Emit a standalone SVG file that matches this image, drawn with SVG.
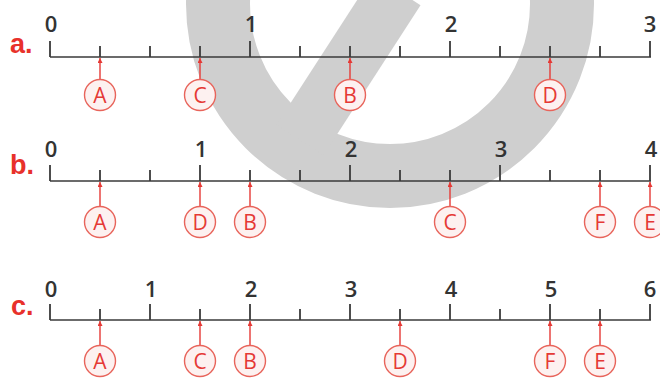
<svg xmlns="http://www.w3.org/2000/svg" width="660" height="378" viewBox="0 0 660 378">
<defs>
<marker id="ah" viewBox="0 0 6 6" refX="6" refY="3" markerWidth="6" markerHeight="5" markerUnits="userSpaceOnUse" orient="auto"><path d="M0,0 L6,3 L0,6 z" fill="#e53935"/></marker>
</defs>
<style>
.ax{stroke:#3a3a3a;stroke-width:1.6;fill:none}
.tk{stroke:#3a3a3a;stroke-width:1.8;fill:none}
.num{font-family:"Open Sans","Liberation Sans",sans-serif;font-size:22px;font-weight:600;fill:#333;text-anchor:middle}
.rl{font-family:"Liberation Sans",sans-serif;font-weight:bold;font-size:27px;fill:#e8312b}
.mc{fill:#fdf1f0;stroke:#e8645b;stroke-width:1.4}
.ml{font-family:"Open Sans","Liberation Sans",sans-serif;font-size:21px;fill:#e53935;text-anchor:middle}
.cn{stroke:#e53935;stroke-width:1.4;marker-end:url(#ah)}
.wm{stroke:#cfcfcf;fill:none}
</style>
<rect width="660" height="378" fill="#fff"/>
<g id="watermark">
<circle class="wm" cx="390" cy="4" r="172" stroke-width="64"/>
<line class="wm" x1="397" y1="-10" x2="300" y2="140" stroke-width="56"/>
</g>
<g id="row-a">
<text class="rl" x="10" y="53">a.</text>
<line class="ax" x1="50" y1="57" x2="651" y2="57"/>
<path class="tk" d="M50,57V41M250,57V41M450,57V41M650,57V41M100,57V46M150,57V46M200,57V46M300,57V46M350,57V46M400,57V46M500,57V46M550,57V46M600,57V46"/>
<text class="num" x="51" y="32">0</text><text class="num" x="251" y="32">1</text><text class="num" x="451" y="32">2</text><text class="num" x="650" y="32">3</text>
</g>
<g id="row-b">
<text class="rl" x="10" y="174">b.</text>
<line class="ax" x1="50" y1="181" x2="651" y2="181"/>
<path class="tk" d="M50,181V165M200,181V165M350,181V165M500,181V165M650,181V165M100,181V170M150,181V170M250,181V170M300,181V170M400,181V170M450,181V170M550,181V170M600,181V170"/>
<text class="num" x="51" y="157">0</text><text class="num" x="201" y="157">1</text><text class="num" x="351" y="157">2</text><text class="num" x="501" y="157">3</text><text class="num" x="651" y="157">4</text>
</g>
<g id="row-c">
<text class="rl" x="11" y="315">c.</text>
<line class="ax" x1="50" y1="320" x2="651" y2="320"/>
<path class="tk" d="M50,320V304M150,320V304M250,320V304M350,320V304M450,320V304M550,320V304M650,320V304M100,320V309M200,320V309M300,320V309M400,320V309M500,320V309M600,320V309"/>
<text class="num" x="51" y="297">0</text><text class="num" x="151" y="297">1</text><text class="num" x="251" y="297">2</text><text class="num" x="351" y="297">3</text><text class="num" x="451" y="297">4</text><text class="num" x="551" y="297">5</text><text class="num" x="650" y="297">6</text>
</g>
<g id="connectors">
<line class="cn" x1="100" y1="80" x2="100" y2="58"/>
<line class="cn" x1="200" y1="80" x2="200" y2="58"/>
<line class="cn" x1="350" y1="80" x2="350" y2="58"/>
<line class="cn" x1="550" y1="80" x2="550" y2="58"/>
<line class="cn" x1="100" y1="207" x2="100" y2="182"/>
<line class="cn" x1="200" y1="207" x2="200" y2="182"/>
<line class="cn" x1="250" y1="207" x2="250" y2="182"/>
<line class="cn" x1="450" y1="207" x2="450" y2="182"/>
<line class="cn" x1="600" y1="207" x2="600" y2="182"/>
<line class="cn" x1="650" y1="207" x2="650" y2="182"/>
<line class="cn" x1="100" y1="346" x2="100" y2="321"/>
<line class="cn" x1="200" y1="346" x2="200" y2="321"/>
<line class="cn" x1="250" y1="346" x2="250" y2="321"/>
<line class="cn" x1="400" y1="346" x2="400" y2="321"/>
<line class="cn" x1="550" y1="346" x2="550" y2="321"/>
<line class="cn" x1="600" y1="346" x2="600" y2="321"/>
</g>
<g id="a-A"><circle class="mc" cx="100" cy="95" r="15.5"/><text class="ml" x="100" y="102.5">A</text></g>
<g id="a-C"><circle class="mc" cx="200" cy="95" r="15.5"/><text class="ml" x="200" y="102.5">C</text></g>
<g id="a-B"><circle class="mc" cx="350" cy="95" r="15.5"/><text class="ml" x="350" y="102.5">B</text></g>
<g id="a-D"><circle class="mc" cx="550" cy="95" r="15.5"/><text class="ml" x="550" y="102.5">D</text></g>
<g id="b-A"><circle class="mc" cx="100" cy="222" r="15.5"/><text class="ml" x="100" y="229.5">A</text></g>
<g id="b-D"><circle class="mc" cx="200" cy="222" r="15.5"/><text class="ml" x="200" y="229.5">D</text></g>
<g id="b-B"><circle class="mc" cx="250" cy="222" r="15.5"/><text class="ml" x="250" y="229.5">B</text></g>
<g id="b-C"><circle class="mc" cx="450" cy="222" r="15.5"/><text class="ml" x="450" y="229.5">C</text></g>
<g id="b-F"><circle class="mc" cx="600" cy="222" r="15.5"/><text class="ml" x="600" y="229.5">F</text></g>
<g id="b-E"><circle class="mc" cx="650" cy="222" r="15.5"/><text class="ml" x="650" y="229.5">E</text></g>
<g id="c-A"><circle class="mc" cx="100" cy="361" r="15.5"/><text class="ml" x="100" y="368.5">A</text></g>
<g id="c-C"><circle class="mc" cx="200" cy="361" r="15.5"/><text class="ml" x="200" y="368.5">C</text></g>
<g id="c-B"><circle class="mc" cx="250" cy="361" r="15.5"/><text class="ml" x="250" y="368.5">B</text></g>
<g id="c-D"><circle class="mc" cx="400" cy="361" r="15.5"/><text class="ml" x="400" y="368.5">D</text></g>
<g id="c-F"><circle class="mc" cx="550" cy="361" r="15.5"/><text class="ml" x="550" y="368.5">F</text></g>
<g id="c-E"><circle class="mc" cx="600" cy="361" r="15.5"/><text class="ml" x="600" y="368.5">E</text></g>
</svg>
